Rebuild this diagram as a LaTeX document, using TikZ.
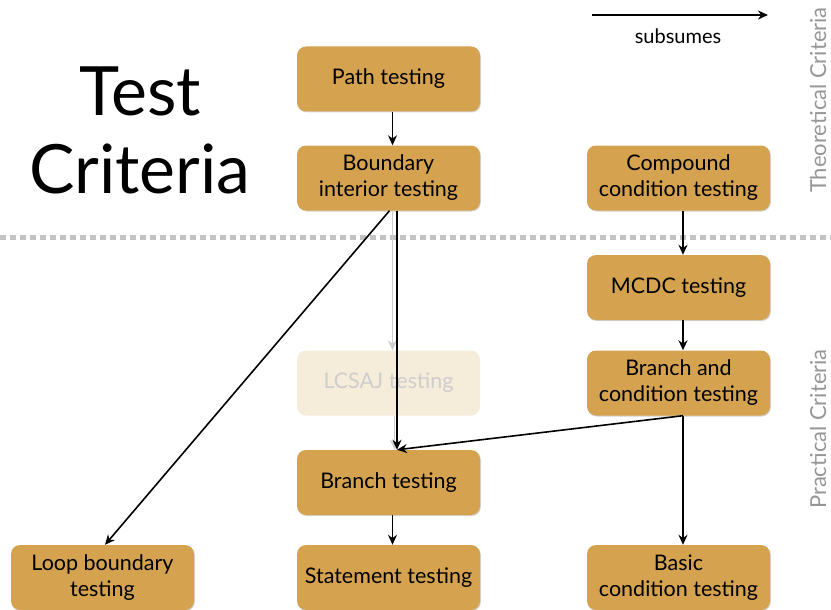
\documentclass[tikz,border=0pt]{standalone}
\usepackage{fontspec}
\setmainfont{Lato}
\usetikzlibrary{arrows.meta,shadows}
\definecolor{boxfill}{RGB}{213,163,80}
\definecolor{fadefill}{RGB}{246,236,218}
\definecolor{fadetext}{RGB}{205,205,205}
\definecolor{sidegray}{RGB}{150,150,150}
\definecolor{dotgray}{RGB}{195,195,195}
\begin{document}
\begin{tikzpicture}[x=1pt,y=-1pt,
  crit/.style={draw=none, fill=boxfill, rounded corners=9pt, minimum width=183pt, minimum height=65pt,
    align=center, font=\fontsize{21.5}{26}\selectfont, text=black, inner sep=2pt,
    drop shadow={shadow xshift=0.8pt, shadow yshift=-1pt, opacity=0.35}},
  faded/.style={draw=none, fill=fadefill, rounded corners=9pt, minimum width=183pt, minimum height=65pt,
    align=center, font=\fontsize{21.5}{26}\selectfont, text=fadetext, inner sep=2pt},
  subs/.style={-{Stealth[length=10pt,width=9pt]}, line width=1.6pt, black},
  fadearr/.style={-{Stealth[length=10pt,width=9pt]}, line width=1.6pt, fadetext},
  sidelabel/.style={rotate=90, text=sidegray, font=\fontsize{22}{24}\selectfont}]
\useasboundingbox (0,0) rectangle (831,610);

% dotted separator
\coordinate (sepL) at (0,237);
\coordinate (sepR) at (831,237);
\draw[dotgray, line width=5pt, dash pattern=on 6pt off 4pt] (sepL) -- (sepR);

% title
\node[font=\fontsize{68}{78}\selectfont, align=center] (title) at (140,130) {Test\\Criteria};

% legend
\coordinate (legA) at (592,15);
\coordinate (legB) at (768,15);
\draw[subs] (legA) -- (legB);
\node[font=\fontsize{20}{24}\selectfont] (legtext) at (678,36) {subsumes};

% side labels
\node[sidelabel] (theo) at (818,100) {Theoretical Criteria};
\node[sidelabel] (prac) at (818,429) {Practical Criteria};

% nodes
\node[crit] (path) at (388.5,79) {Path testing};
\node[crit] (bi) at (388.5,178) {Boundary\\interior testing};
\node[crit] (cc) at (678.5,178) {Compound\\condition testing};
\node[crit] (mcdc) at (678.5,287.5) {MCDC testing};
\node[crit] (bc) at (678.5,383) {Branch and\\condition testing};
\node[faded] (lcsaj) at (388.5,383) {LCSAJ testing};
\node[crit] (br) at (388.5,482.5) {Branch testing};
\node[crit] (loop) at (102.5,577.5) {Loop boundary\\testing};
\node[crit] (st) at (388.5,577.5) {Statement testing};
\node[crit] (basic) at (678.5,577.5) {Basic\\condition testing};

% faded arrows
\draw[fadearr] ([xshift=4pt]bi.south) -- ([xshift=4pt]lcsaj.north);
\draw[fadearr] ([xshift=6pt]lcsaj.south) -- ([xshift=6pt]br.north);

% subsumes arrows
\draw[subs] ([xshift=4pt]path.south) -- ([xshift=4pt]bi.north);
\draw[subs] ([xshift=8.5pt]bi.south) -- ([xshift=8.5pt]br.north);
\draw[subs] ([xshift=1pt]bi.south) -- ([xshift=2.5pt]loop.north);
\draw[subs] ([xshift=4.5pt]cc.south) -- ([xshift=4.5pt]mcdc.north);
\draw[subs] ([xshift=4.5pt]mcdc.south) -- ([xshift=4.5pt]bc.north);
\draw[subs] ([xshift=4.5pt]bc.south) -- ([xshift=8.5pt]br.north);
\draw[subs] ([xshift=4.5pt]bc.south) -- ([xshift=4.5pt]basic.north);
\draw[subs] ([xshift=4pt]br.south) -- ([xshift=4pt]st.north);
\end{tikzpicture}
\end{document}
